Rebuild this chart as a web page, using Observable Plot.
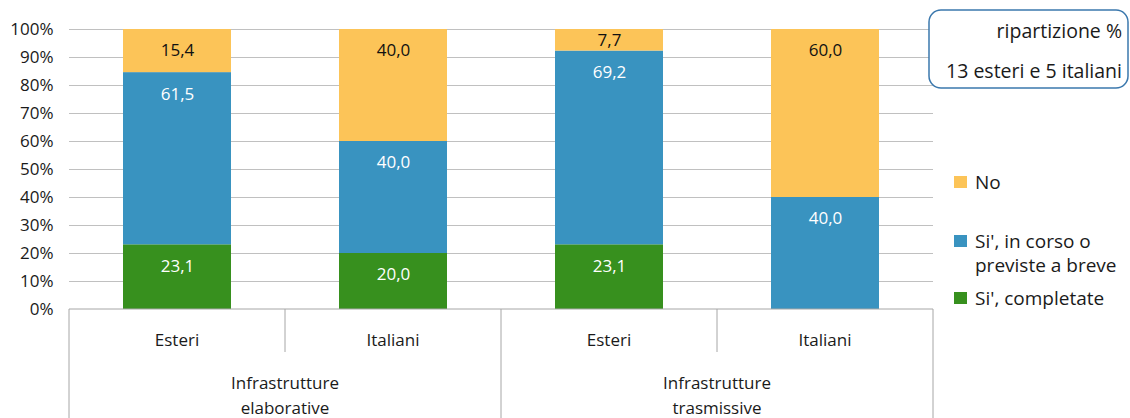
<!DOCTYPE html>
<html><head><meta charset="utf-8">
<script src="https://cdn.jsdelivr.net/npm/d3@7"></script>
<script src="https://cdn.jsdelivr.net/npm/@observablehq/plot@0.6"></script>
<style>
body{margin:0;background:#fff;}
#chart{position:relative;width:1130px;height:418px;}
</style></head><body><div id="chart"></div>
<script>
// ---- data ----
const keys = ["E1", "I1", "E2", "I2"];
const categories = ["Esteri", "Italiani", "Esteri", "Italiani"];
const groups = [["Infrastrutture", "elaborative"], ["Infrastrutture", "trasmissive"]];
const seriesNames = ["Si', completate", "Si', in corso o previste a breve", "No"];
const legendLines = [["Si', completate"], ["Si', in corso o", "previste a breve"], ["No"]];
const completate = [23.1, 20.0, 23.1, 0];
const inCorso = [61.5, 40.0, 69.2, 40.0];
const no = [15.4, 40.0, 7.7, 60.0];
const yTicks = [0, 10, 20, 30, 40, 50, 60, 70, 80, 90, 100];
const boxLines = ["ripartizione %", "13 esteri e 5 italiani"];
const colors = ["#37901e", "#3993c0", "#fcc458"];

const seriesValues = [completate, inCorso, no];
const data = [];
seriesNames.forEach((s, si) => keys.forEach((k, i) => data.push({key: k, series: s, value: seriesValues[si][i]})));

const fmt = v => v > 0 ? d3.format(".1f")(v).replace(".", ",") : "";
const FONT = "'Open Sans', sans-serif";
const SMALL = 10; // segments below this share are labelled at their middle
const isNo = d => d.series === "No";

// label text for "inside end" (top) vs "center" positioning
const lblTop = (dark) => d => (isNo(d) === dark && d.value >= SMALL) ? fmt(d.value) : "";
const lblMid = (dark) => d => (isNo(d) === dark && d.value < SMALL) ? fmt(d.value) : "";

const chart = Plot.plot({
  width: 1130, height: 418,
  marginLeft: 69, marginRight: 197, marginTop: 29, marginBottom: 109,
  style: {fontFamily: FONT, fontSize: "17px", color: "#1a1a1a", background: "#fff", overflow: "visible"},
  x: {domain: keys, paddingInner: 0.5, paddingOuter: 0.25, axis: null},
  y: {domain: [0, 100], ticks: yTicks, tickFormat: d => d + "%", tickSize: 0, tickPadding: 16, label: null},
  color: {domain: seriesNames, range: colors},
  marks: [
    Plot.gridY(yTicks.filter(d => d > 0), {stroke: "#c0c0c0", strokeOpacity: 1}),
    Plot.barY(data, {x: "key", y: "value", fill: "series"}),
    Plot.text(data, Plot.stackY2({x: "key", y: "value", z: "series", text: lblTop(false), fill: "white", fontSize: 17, dy: 21.5})),
    Plot.text(data, Plot.stackY2({x: "key", y: "value", z: "series", text: lblTop(true), fill: "#111", fontSize: 17, dy: 21.5})),
    Plot.text(data, Plot.stackY({x: "key", y: "value", z: "series", text: lblMid(false), fill: "white", fontSize: 17})),
    Plot.text(data, Plot.stackY({x: "key", y: "value", z: "series", text: lblMid(true), fill: "#111", fontSize: 17}))
  ]
});

document.getElementById("chart").appendChild(chart);

// ---- category table below axis, built from the scales ----
const X = chart.scale("x"), Y = chart.scale("y");
const step = X.step, bw = X.bandwidth;
const left = X.apply(keys[0]) - (step - bw) / 2;
const y0 = Y.apply(0);
const svg = d3.select(chart);
const lines = svg.append("g").attr("stroke", "#a6a6a6").attr("stroke-width", 1);
lines.append("line").attr("x1", left).attr("x2", left + keys.length * step).attr("y1", y0).attr("y2", y0);
for (let i = 0; i <= keys.length; i++) {
  lines.append("line").attr("x1", left + i * step).attr("x2", left + i * step)
    .attr("y1", y0).attr("y2", i % 2 ? y0 + 43 : 418);
}
const tg = svg.append("g").attr("font-family", FONT).attr("font-size", 17).attr("fill", "#1a1a1a").attr("text-anchor", "middle");
keys.forEach((k, i) => {
  tg.append("text").attr("x", X.apply(k) + bw / 2).attr("y", y0 + 31).attr("dy", "0.35em").text(categories[i]);
});
groups.forEach((gl, gi) => {
  gl.forEach((t, li) => {
    tg.append("text").attr("x", left + (2 * gi + 1) * step).attr("y", 383 + li * 25).attr("dy", "0.35em").text(t);
  });
});

// ---- annotation box ----
const box = svg.append("g").attr("font-family", FONT).attr("font-size", 19.5).attr("fill", "#1a1a1a");
box.append("rect").attr("x", 929).attr("y", 10).attr("width", 199).attr("height", 78).attr("rx", 12)
  .attr("fill", "white").attr("stroke", "#3b78ad").attr("stroke-width", 1.5);
boxLines.forEach((t, i) => {
  box.append("text").attr("x", 1122).attr("y", 31 + i * 40).attr("dy", "0.35em").attr("text-anchor", "end").text(t);
});

// ---- legend ----
const leg = svg.append("g").attr("font-family", FONT).attr("font-size", 19).attr("fill", "#1a1a1a").attr("text-anchor", "start");
const legY = [298, 241, 182];
legendLines.forEach((ls, si) => {
  leg.append("rect").attr("x", 954).attr("y", legY[si] - 6).attr("width", 13).attr("height", 12).attr("fill", colors[si]);
  ls.forEach((t, li) => {
    leg.append("text").attr("x", 975).attr("y", legY[si] + li * 24).attr("dy", "0.35em").text(t);
  });
});
</script>
</body></html>
